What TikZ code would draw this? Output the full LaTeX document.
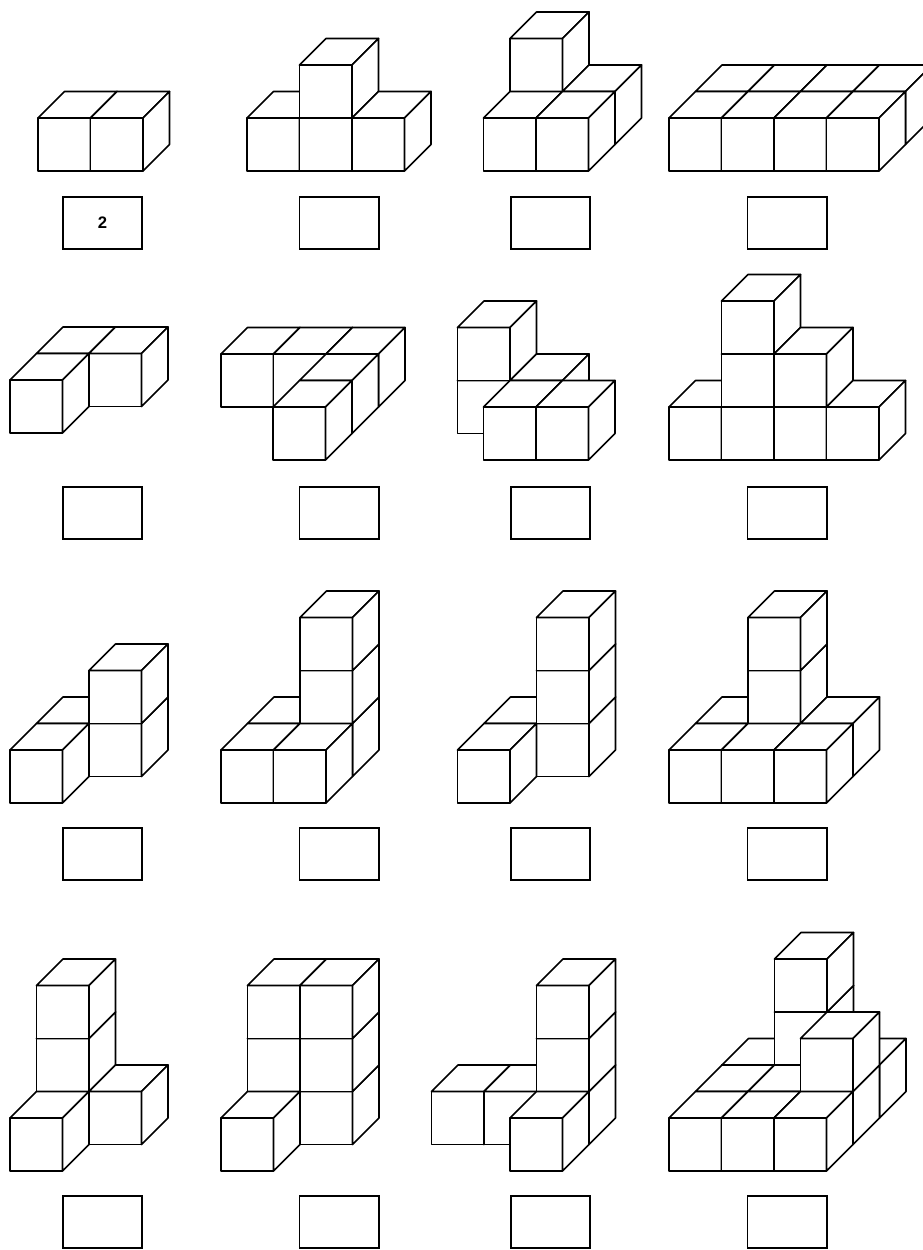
\documentclass[tikz,border=0pt]{standalone}
\usepackage{fontspec}
\setmainfont{Liberation Sans}
\tikzset{
  face/.style={draw=black,fill=white,line width=1.25pt,line join=round},
  answerbox/.style={draw=black,fill=white,line width=1.25pt,rectangle,inner sep=0pt,outer sep=0pt,
    minimum width=59.5pt,minimum height=39pt,font=\fontsize{12.5}{12.5}\selectfont\bfseries}
}
% #1,#2 = front-bottom-left of the figure; #3 = list of column/height/depth
\newcommand\cubefig[3]{%
  \foreach \cc/\hh/\dd in {#3}{%
    \pgfmathsetmacro\XX{#1+\cc*52.5+\dd*26.5}%
    \pgfmathsetmacro\YY{#2-\hh*53-\dd*26.5}%
    \draw[face] (\XX,\YY) -- ++(52.5,0) -- ++(0,-53) -- ++(-52.5,0) -- cycle;
    \draw[face] (\XX,\YY) ++(0,-53) -- ++(26.5,-26.5) -- ++(52.5,0) -- ++(-26.5,26.5) -- cycle;
    \draw[face] (\XX,\YY) ++(52.5,0) -- ++(26.5,-26.5) -- ++(0,-53) -- ++(-26.5,26.5) -- cycle;
  }%
}
\begin{document}
\begin{tikzpicture}[x=0.75pt,y=-0.75pt]
\useasboundingbox (0,0) rectangle (923,1250);
\clip (0,0) rectangle (923,1250);
% row 1
\cubefig{38}{171}{0/0/0,1/0/0}
\cubefig{247}{171}{0/0/0,1/0/0,1/1/0,2/0/0}
\cubefig{483.5}{171}{0/0/1,0/1/1,1/0/1,0/0/0,1/0/0}
\cubefig{669}{171}{0/0/1,1/0/1,2/0/1,3/0/1,0/0/0,1/0/0,2/0/0,3/0/0}
% row 2
\cubefig{10}{433}{0/0/1,1/0/1,0/0/0}
\cubefig{273}{460}{-2/0/2,-1/0/2,0/0/2,0/0/1,0/0/0}
\cubefig{483.5}{460}{-1/0/1,-1/1/1,0/0/1,0/0/0,1/0/0}
\cubefig{669}{460}{0/0/0,1/0/0,1/1/0,1/2/0,2/0/0,2/1/0,3/0/0}
% row 3
\cubefig{10}{803}{0/0/1,1/0/1,1/1/1,0/0/0}
\cubefig{221}{803}{0/0/1,1/0/1,1/1/1,1/2/1,0/0/0,1/0/0}
\cubefig{457.5}{803}{0/0/1,1/0/1,1/1/1,1/2/1,0/0/0}
\cubefig{669}{803}{0/0/1,1/0/1,1/1/1,1/2/1,2/0/1,0/0/0,1/0/0,2/0/0}
% row 4
\cubefig{10}{1171}{0/0/1,0/1/1,0/2/1,1/0/1,0/0/0}
\cubefig{221}{1171}{0/0/1,0/1/1,0/2/1,1/0/1,1/1/1,1/2/1,0/0/0}
\cubefig{510}{1171}{-2/0/1,-1/0/1,0/0/1,0/1/1,0/2/1,0/0/0}
\cubefig{669}{1171}{0/0/2,1/0/2,1/1/2,1/2/2,2/0/2,0/0/1,1/0/1,2/0/1,2/1/1,0/0/0,1/0/0,2/0/0}
% answer boxes
\node[answerbox] (b1) at (102.5,223) {2};
\node[answerbox] (b2) at (339,223) {};
\node[answerbox] (b3) at (550.5,223) {};
\node[answerbox] (b4) at (787,223) {};
\node[answerbox] (b5) at (102.5,513) {};
\node[answerbox] (b6) at (339,513) {};
\node[answerbox] (b7) at (550.5,513) {};
\node[answerbox] (b8) at (787,513) {};
\node[answerbox] (b9) at (102.5,854) {};
\node[answerbox] (b10) at (339,854) {};
\node[answerbox] (b11) at (550.5,854) {};
\node[answerbox] (b12) at (787,854) {};
\node[answerbox] (b13) at (102.5,1222) {};
\node[answerbox] (b14) at (339,1222) {};
\node[answerbox] (b15) at (550.5,1222) {};
\node[answerbox] (b16) at (787,1222) {};
\end{tikzpicture}
\end{document}
